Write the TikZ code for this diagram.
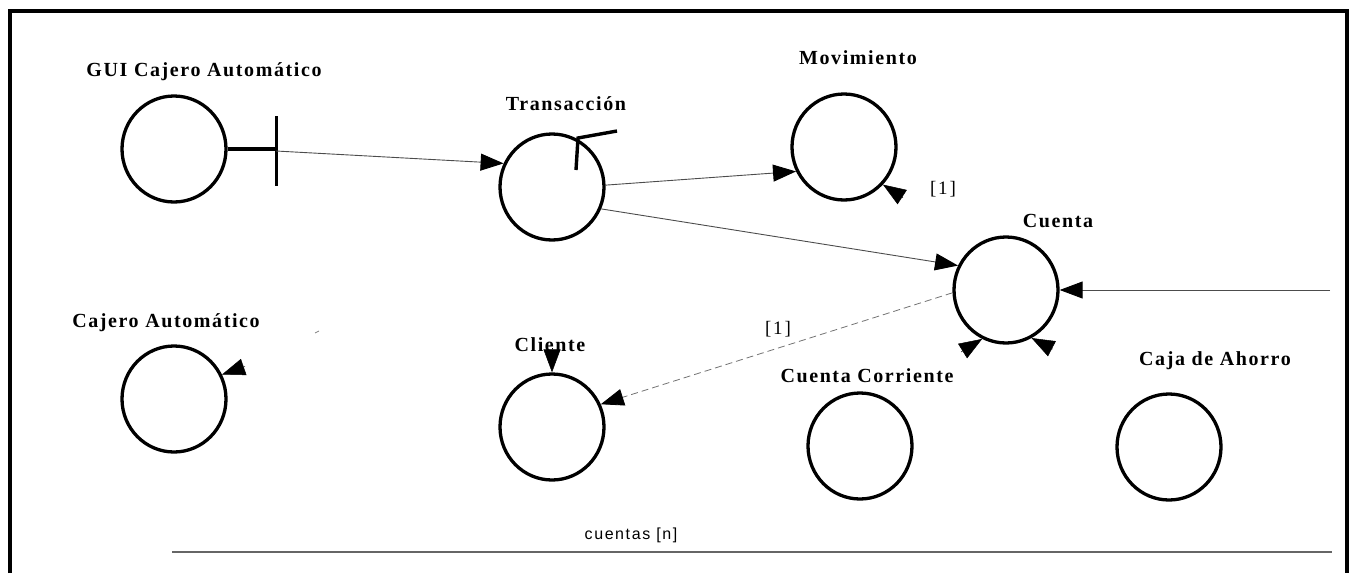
\documentclass[tikz,border=0pt]{standalone}
\usepackage{fontspec}
\setmainfont{Liberation Serif}
\setsansfont{Liberation Sans}
\usetikzlibrary{shapes.geometric,arrows.meta,calc}

\begin{document}
\begin{tikzpicture}[x=1pt,y=-1pt]
	\tikzset{>={Triangle[length=23pt,width=17pt,color=black]}}
	\tikzset{
		obj/.style={ellipse, draw, line width=3.3pt, minimum width=104pt, minimum height=106pt, inner sep=0pt},
		objname/.style={inner sep=0pt, font=\fontsize{20}{22}\selectfont\bfseries\addfontfeature{LetterSpace=8}},
		mult/.style={inner sep=0pt, font=\fontsize{19}{21}\selectfont\addfontfeature{LetterSpace=10}},
		link/.style={->, line width=0.9pt, black!70},
		weaklink/.style={->, line width=0.8pt, black!55, dash pattern=on 7pt off 4pt},
		stub/.style={->, line width=0.5pt}
	}
	\useasboundingbox (0,0) rectangle (1357,573);
	% frame
	\draw[line width=3.2pt] (10,573) -- (10,11) -- (1347,11) -- (1347,573);

	% objects
	\node[obj] (gui) at (174,149) {};
	\node[objname] (guiname) at (204,72) {GUI Cajero Automático};
	\node[obj] (trans) at (552,187) {};
	\node[objname] (transname) at (566,104) {Transacción};
	\node[obj] (mov) at (844,147) {};
	\node[objname] (movname) at (858,58) {Movimiento};
	\node[obj] (cuenta) at (1006,290) {};
	\node[objname] (cuentaname) at (1058,221) {Cuenta};
	\node[obj] (cajero) at (174,399) {};
	\node[objname] (cajeroname) at (166,323) {Cajero Automático};
	\node[obj] (cliente) at (552,427) {};
	\node[objname] (clientename) at (550,345) {Cliente};
	\node[obj] (corriente) at (860,446) {};
	\node[objname] (corrientename) at (867,376) {Cuenta Corriente};
	\node[obj] (ahorro) at (1169,447) {};
	\node[objname] (ahorroname) at (1215,361) {Caja de Ahorro};

	% interface of the GUI
	\coordinate (bar) at (276,151);
	\draw[line width=3.8pt] (gui.east) -- (bar |- gui.east);
	\draw[line width=3pt] (276,116) -- (276,186);
	% control mark on Transaccion
	\draw[line width=3.4pt] (576,170) -- (578,138) -- (617,131);

	% links
	\draw[link] (bar) -- (trans.154);
	\draw[link] (trans.2) -- (mov.207);
	\draw[link] (trans.336) -- (cuenta.153);
	\coordinate (ext) at (1330,290);
	\draw[link] (ext) -- (cuenta.east);
	\draw[weaklink] (cuenta.183) -- (cliente.25);
	\node[mult] (movmult) at (943,189) {[1]};
	\node[mult] (clmult) at (778,329) {[1]};

	% loose arrow heads
	\draw[stub] ($(mov.-44)+(20,13)$) -- (mov.-44);
	\draw[stub] ($(cuenta.244)+(-21,13)$) -- (cuenta.244);
	\draw[stub] ($(cuenta.298)+(21,11)$) -- (cuenta.298);
	\draw[stub] ($(cajero.27)+(23,-8)$) -- (cajero.27);
	\draw[stub] ($(cliente.north)+(0,-24)$) -- (cliente.north);
	\draw[black!50, line width=0.8pt] (315,333) -- (319,331);

	% cuentas
	\draw[line width=1.6pt, black!60] (172,552) -- (1332,552);
	\node[inner sep=0pt, font=\sffamily\fontsize{16}{18}\selectfont\addfontfeature{LetterSpace=10}] (cuentas) at (631,535) {cuentas [n]};
\end{tikzpicture}
\end{document}
